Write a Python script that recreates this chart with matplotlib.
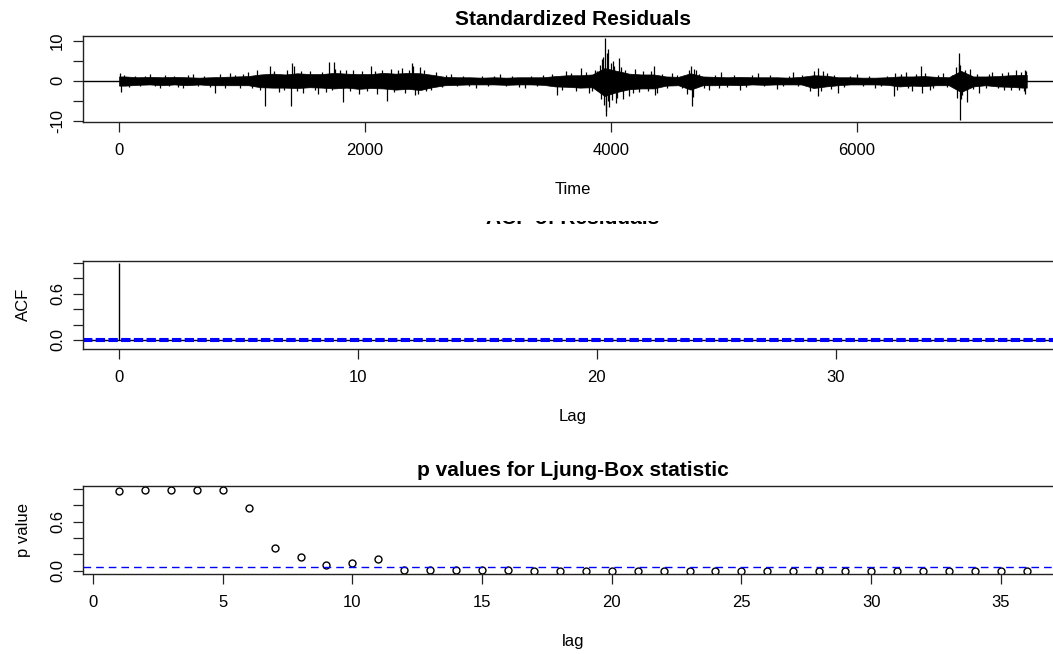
import numpy as np
import matplotlib.pyplot as plt
from matplotlib.patches import Rectangle

plt.rcParams['font.family'] = ['Liberation Sans', 'DejaVu Sans']

# ---- standardized residuals:
# dense core of the band at the centre of every 100-step block, plus the visible spikes
n_obs = 7385
band_t = np.arange(50, 7400, 100)
band_hi = [1.1, 0.9, 1.0, 0.9, 1.0, 0.9, 0.8, 0.9, 1.0, 1.1,
           1.2, 1.6, 1.8, 1.6, 1.9, 1.7, 1.7, 2.0, 1.8, 1.7,
           1.7, 2.0, 1.8, 2.0, 1.9, 1.5, 1.0, 0.9, 0.9, 0.8,
           0.9, 0.8, 0.9, 0.9, 0.9, 1.2, 1.4, 1.4, 1.6, 3.2,
           2.5, 1.8, 1.6, 1.6, 1.1, 1.0, 1.9, 1.1, 1.0, 0.9,
           1.0, 0.9, 0.9, 0.9, 0.8, 1.0, 1.4, 1.3, 0.9, 0.9,
           0.8, 0.8, 0.9, 1.1, 1.1, 1.2, 1.0, 0.9, 2.5, 1.1,
           1.1, 1.2, 1.4, 1.5]
band_lo = [-1.2, -1.0, -0.9, -1.1, -0.9, -1.1, -0.9, -1.1, -1.1, -1.1,
           -1.1, -1.6, -1.7, -1.7, -1.8, -1.6, -1.7, -1.9, -1.7, -2.0,
           -1.8, -1.9, -2.2, -2.0, -2.3, -1.6, -1.1, -1.0, -0.9, -0.9,
           -0.9, -1.0, -0.9, -0.9, -1.0, -1.4, -1.5, -1.7, -1.6, -3.8,
           -2.8, -2.1, -1.9, -1.9, -1.2, -1.1, -2.2, -1.1, -1.1, -1.0,
           -1.1, -0.9, -1.0, -0.9, -0.9, -0.9, -1.8, -1.4, -1.1, -0.9,
           -0.9, -0.9, -1.0, -1.4, -1.2, -1.3, -1.1, -1.1, -2.8, -1.4,
           -1.1, -1.4, -1.5, -1.7]
spike_t = [10, 15, 40, 80, 130, 170, 210, 250, 290, 330, 370, 410, 450, 480, 520, 560, 600, 640,
           690, 740, 782, 820, 860, 900, 940, 980, 1010, 1050, 1080, 1120, 1150, 1190, 1230, 1260,
           1300, 1340, 1370, 1402, 1410, 1420, 1450, 1480, 1500, 1550, 1590, 1620, 1650, 1680, 1706,
           1730, 1747, 1760, 1800, 1823, 1850, 1880, 1900, 1950, 1980, 2020, 2050, 2080, 2100, 2140,
           2176, 2210, 2240, 2270, 2300, 2330, 2360, 2386, 2395, 2410, 2430, 2450, 2480, 2500, 2540,
           2580, 2630, 2660, 2700, 2750, 2800, 2850, 2900, 2950, 3000, 3050, 3100, 3150, 3200, 3250,
           3300, 3350, 3400, 3450, 3520, 3560, 3600, 3640, 3680, 3720, 3760, 3800, 3820, 3850, 3870,
           3890, 3910, 3920, 3930, 3940, 3945, 3953, 3958, 3962, 3968, 3975, 3980, 3990, 4000, 4010,
           4020, 4030, 4040, 4055, 4070, 4085, 4100, 4120, 4150, 4180, 4200, 4230, 4260, 4300, 4330,
           4350, 4360, 4380, 4420, 4460, 4500, 4540, 4580, 4620, 4640, 4650, 4662, 4670, 4680, 4690,
           4720, 4760, 4800, 4850, 4880, 4900, 4950, 5000, 5050, 5100, 5150, 5200, 5250, 5300, 5350,
           5400, 5450, 5480, 5520, 5560, 5620, 5650, 5687, 5690, 5710, 5730, 5760, 5790, 5820, 5850,
           5900, 5950, 6000, 6050, 6100, 6150, 6200, 6250, 6303, 6310, 6330, 6360, 6400, 6420, 6450,
           6480, 6522, 6530, 6560, 6600, 6620, 6660, 6700, 6740, 6780, 6810, 6820, 6830, 6835, 6838,
           6845, 6850, 6860, 6880, 6895, 6920, 6950, 6980, 7000, 7050, 7080, 7100, 7150, 7180, 7200,
           7230, 7260, 7300, 7320, 7340, 7360, 7370, 7372, 7380]
spike_v = [2.0, -2.7, 1.4, -1.5, 1.2, -1.3, 1.3, 1.6, -1.4, -1.9, 1.5, -1.2, 1.1, -1.6, -1.8, 1.4, 1.7, -1.3,
           1.2, -1.5, -3.1, 1.6, -1.7, 1.9, 1.5, -1.8, 1.7, 2.2, -1.9, 2.6, -2.2, -6.4, 3.6, 2.4,
           -2.8, -2.3, 2.6, -6.4, 4.4, 3.8, -2.6, 2.4, -3.0, 2.5, -2.4, -3.2, 2.3, -2.7, 4.8,
           -2.4, 4.8, 3.0, 2.6, -5.2, 2.7, -2.5, 2.8, -3.4, 2.4, -2.6, 3.6, 2.5, -3.2, 2.7,
           -5.0, 3.0, -2.9, 2.6, 3.2, -3.0, 2.8, 4.4, 3.8, -3.5, -3.2, 3.4, 2.6, -2.6, -2.4,
           2.1, -1.6, 1.5, 1.8, -1.4, 1.3, -1.3, -1.9, 1.2, -1.4, 1.3, 1.6, -1.3, 1.2, -1.5,
           -1.8, 1.3, -1.4, 1.4, 1.8, -3.5, -2.2, 2.4, 2.0, -2.5, 3.3, 2.3, -3.0, -2.6, 2.6,
           2.4, 4.0, -4.5, 5.5, 6.0, -6.0, 10.8, -8.9, -7.5, 7.0, 8.0, -5.0, -6.5, 4.5, -4.8,
           5.0, 3.8, -5.6, -4.2, 5.8, 3.5, -4.5, 2.6, -3.9, -3.0, 3.0, -2.8, 2.5, -2.6, 2.4,
           3.6, -3.5, -3.0, 1.6, -1.8, 2.0, 1.5, -1.7, -3.2, 2.8, 3.6, -6.2, -4.0, 3.0, 2.7,
           1.7, -1.8, -2.3, 1.5, -1.7, 2.3, -1.6, 1.5, -2.2, -1.5, 1.4, 2.0, -1.4, 1.5, -2.1,
           -1.3, 1.3, 2.3, -1.4, 1.5, -2.5, 2.4, -3.9, 3.2, -2.6, 2.4, 2.0, -2.0, 1.4, -3.0,
           -1.5, 1.3, 1.7, -1.3, 1.2, -1.8, -1.4, 1.3, -3.9, 1.9, -2.2, 1.8, 2.2, -1.9, -2.5,
           1.7, 3.7, -3.0, 1.9, -2.3, -1.8, 1.5, 1.9, -1.6, 1.5, 3.5, -4.2, 4.5, 6.9, -9.9,
           4.0, -4.5, -3.5, 2.8, -5.2, 3.0, -2.0, 1.8, -3.0, -1.8, 1.7, 2.2, -1.9, 2.0, -2.4,
           2.1, -2.2, 2.6, -2.4, 2.3, -2.5, 2.75, -3.3, 2.4]

# ---- ACF of residuals
acf_lag = np.arange(0, 39)
acf_val = [1.0, 0.004, -0.006, 0.003, -0.002, 0.005, 0.008, -0.010, 0.006, -0.004, 0.003, 0.007,
           0.012, -0.005, 0.004, -0.012, 0.014, 0.003, 0.010, -0.004, 0.005, 0.002, -0.006, 0.004,
           -0.003, 0.006, 0.002, -0.004, 0.003, 0.008, -0.002, 0.004, -0.003, 0.002, -0.013, 0.005,
           -0.004, 0.003, 0.002]
acf_ci = 0.015

# ---- Ljung-Box p values
lb_lag = np.arange(1, 37)
lb_p = [0.975, 0.99, 0.99, 0.99, 0.99, 0.77, 0.28, 0.17, 0.065, 0.10, 0.14, 0.012, 0.010, 0.010,
        0.003, 0.003, 0.002, 0.002, 0.002, 0.002, 0.002, 0.002, 0.002, 0.002, 0.002, 0.002, 0.002,
        0.002, 0.002, 0.002, 0.002, 0.002, 0.002, 0.002, 0.002, 0.002]

W, H = 1053, 654
fig = plt.figure(figsize=(W / 100, H / 100), dpi=100)


def add_ax(left, top, right, bottom):
    return fig.add_axes([left / W, 1 - bottom / H, (right - left) / W, (bottom - top) / H])


def style(ax, yticks, ylabels):
    for s in ax.spines.values():
        s.set_linewidth(1.0)
        s.set_color('#222222')
    ax.tick_params(direction='out', length=7.2, width=0.9, labelsize=12, color='#222222')
    ax.tick_params(axis='x', pad=8)
    ax.tick_params(axis='y', pad=5.5)
    ax.set_yticks(yticks)
    ax.set_yticklabels(ylabels, rotation=90, va='center')


# top panel
ax1 = add_ax(82.7, 35.7, 1063, 122)
t_fill = np.concatenate([[0], band_t, [n_obs]])
ax1.fill_between(t_fill, [band_lo[0]] + band_lo + [band_lo[-1]],
                 [band_hi[0]] + band_hi + [band_hi[-1]], color='black', lw=0.5)
ax1.vlines(spike_t, 0, spike_v, color='black', lw=0.9)
ax1.axhline(0, color='black', lw=1.0)
ax1.set_xlim(-296, 7680)
ax1.set_ylim(-10.3, 11.3)
ax1.set_xticks([0, 2000, 4000, 6000])
style(ax1, [-10, -5, 0, 5, 10], ['-10', '', '0', '', '10'])
ax1.set_title('Standardized Residuals', fontsize=15, fontweight='bold', pad=7.7)
ax1.set_xlabel('Time', fontsize=12, labelpad=17)

# middle panel
ax2 = add_ax(82.7, 260.7, 1063, 349)
ax2.vlines(acf_lag, 0, acf_val, color='black', lw=1.0)
ax2.axhline(0, color='black', lw=1.0)
for c in (acf_ci, -acf_ci):
    ax2.axhline(c, color='#0000FF', lw=1.5, dashes=(4.5, 1.6))
ax2.set_xlim(-1.52, 39.52)
ax2.set_ylim(-0.117, 1.03)
ax2.set_xticks([0, 10, 20, 30])
style(ax2, [0, 0.2, 0.4, 0.6, 0.8, 1.0], ['0.0', '', '', '0.6', '', ''])
ax2.set_xlabel('Lag', fontsize=12, labelpad=17)
ax2.set_ylabel('ACF', fontsize=12, labelpad=14)

# title of the ACF panel, only its lower edge shows
fig.text(573 / W, 1 - 223.5 / H, 'ACF of Residuals', fontsize=15, fontweight='bold',
         ha='center', va='baseline')
fig.patches.append(Rectangle((380 / W, 1 - 220.5 / H), 400 / W, 20 / H, transform=fig.transFigure,
                             facecolor='white', edgecolor='none', zorder=10))

# bottom panel
ax3 = add_ax(82.7, 485.7, 1063, 574)
ax3.plot(lb_lag, lb_p, 'o', mfc='none', mec='black', ms=5, mew=1.0)
ax3.axhline(0.05, color='#0000FF', lw=1.0, dashes=(5.5, 3.6))
ax3.set_xlim(-0.4, 37.4)
ax3.set_ylim(-0.04, 1.04)
ax3.set_xticks(range(0, 40, 5))
style(ax3, [0, 0.2, 0.4, 0.6, 0.8, 1.0], ['0.0', '', '', '0.6', '', ''])
ax3.set_title('p values for Ljung-Box statistic', fontsize=15, fontweight='bold', pad=7)
ax3.set_xlabel('lag', fontsize=12, labelpad=17)
ax3.set_ylabel('p value', fontsize=12, labelpad=14)

fig.savefig('out.png', dpi=100)
